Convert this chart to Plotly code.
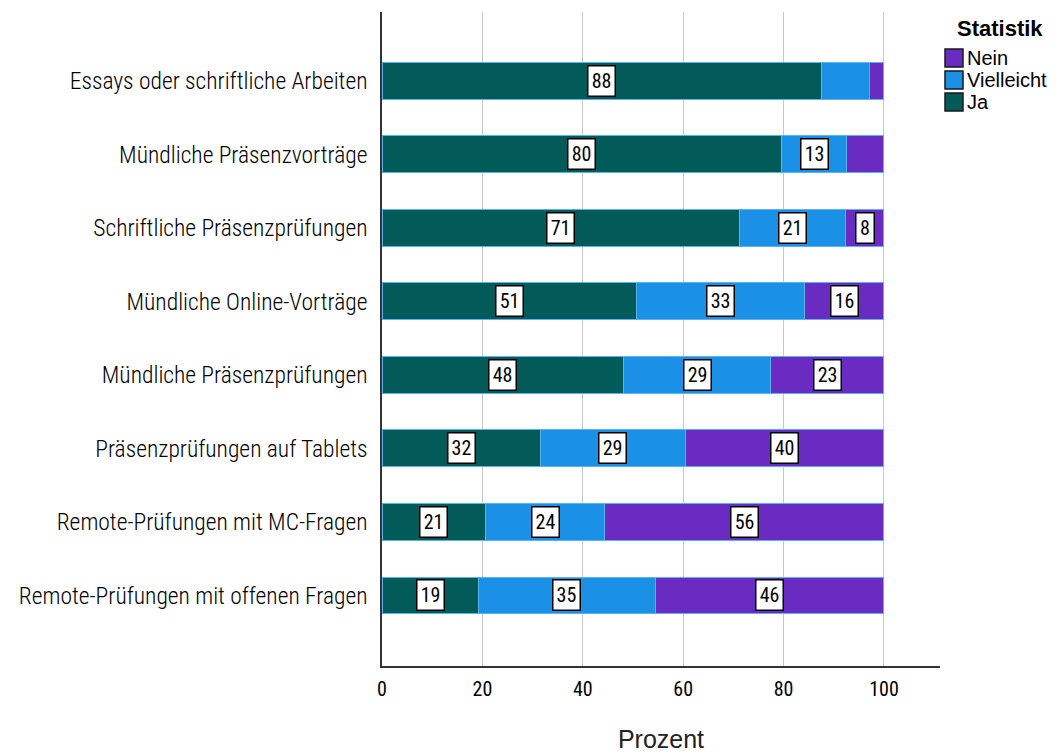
import plotly.graph_objects as go

# Survey categories (top to bottom)
categories = [
    "Essays oder schriftliche Arbeiten",
    "Mündliche Präsenzvorträge",
    "Schriftliche Präsenzprüfungen",
    "Mündliche Online-Vorträge",
    "Mündliche Präsenzprüfungen",
    "Präsenzprüfungen auf Tablets",
    "Remote-Prüfungen mit MC-Fragen",
    "Remote-Prüfungen mit offenen Fragen",
]

# Percent of answers per response
ja = [87.6, 79.6, 71.2, 50.7, 48.2, 31.6, 20.6, 19.2]
vielleicht = [9.6, 13.0, 21.2, 33.4, 29.2, 28.8, 23.8, 35.2]
nein = [2.8, 7.4, 7.6, 15.9, 22.6, 39.6, 55.6, 45.6]

# Which segments carry a value label
show_ja = [True] * 8
show_vielleicht = [False, True, True, True, True, True, True, True]
show_nein = [False, False, True, True, True, True, True, True]

series = [
    ("Ja", ja, show_ja, "#035b59"),
    ("Vielleicht", vielleicht, show_vielleicht, "#1a90e6"),
    ("Nein", nein, show_nein, "#6a2bc3"),
]

NARROW = "Liberation Sans Narrow, Roboto Condensed, Arial Narrow, sans-serif"
REGULAR = "Liberation Sans, Arial, sans-serif"

# plot-area geometry in pixels (used to place the legend block)
W, H = 1059, 754
ML, MR, MT, MB = 382, 119, 12, 88
PW, PH = W - ML - MR, H - MT - MB


def px_x(px):
    return (px - ML) / PW


def px_y(py):
    return (H - MB - py) / PH


fig = go.Figure()

for name, vals, show, color in series:
    fig.add_trace(go.Bar(
        y=categories, x=vals, orientation="h", name=name,
        marker=dict(color=color, line=dict(color="#5cb2f0", width=1)),
        width=0.5, showlegend=False, hoverinfo="x+y",
    ))

# Value labels in white boxes, centred on each segment
base = [0.0] * len(categories)
for name, vals, show, color in series:
    for i, (cat, v) in enumerate(zip(categories, vals)):
        if show[i]:
            txt = f"{v:.0f}"
            fig.add_annotation(
                x=base[i] + v / 2, y=cat, xref="x", yref="y",
                text=txt, showarrow=False,
                font=dict(family=NARROW, size=20, color="#000000"),
                bgcolor="#ffffff", bordercolor="#000000", borderwidth=1.5,
                borderpad=0, width=8 + 9 * len(txt), height=29,
            )
        base[i] += v

# Legend block: title plus outlined colour squares
fig.add_annotation(
    x=px_x(1000), y=px_y(29), xref="paper", yref="paper",
    text="<b>Statistik</b>", showarrow=False, xanchor="center", yanchor="middle",
    font=dict(family=REGULAR, size=22, color="#000000"),
)
for k, (name, vals, show, color) in enumerate(reversed(series)):
    cy = 58 + 22 * k
    fig.add_shape(
        type="rect", xref="paper", yref="paper",
        x0=px_x(945), x1=px_x(963), y0=px_y(cy - 9), y1=px_y(cy + 9),
        fillcolor=color, line=dict(color="#1a1a1a", width=1.5),
    )
    fig.add_annotation(
        x=px_x(965), y=px_y(cy), xref="paper", yref="paper",
        text=name, showarrow=False, xanchor="left", yanchor="middle",
        font=dict(family=REGULAR, size=20, color="#000000"),
    )

fig.update_layout(
    width=W, height=H,
    margin=dict(l=ML, r=MR, t=MT, b=MB),
    paper_bgcolor="#ffffff", plot_bgcolor="#ffffff",
    barmode="stack", bargap=0.5, showlegend=False,
    xaxis=dict(
        range=[0, 111.16], tickvals=[0, 20, 40, 60, 80, 100],
        showgrid=True, gridcolor="#c8c8c8", gridwidth=1,
        zeroline=False, showline=True, linecolor="#333333", linewidth=1.5,
        ticks="", ticklabelstandoff=4, automargin=False,
        tickfont=dict(family=NARROW, size=20, color="#000000"),
        title=dict(text="Prozent", font=dict(family=REGULAR, size=25, color="#222222"), standoff=31),
    ),
    yaxis=dict(
        type="category", categoryorder="array", categoryarray=categories,
        range=[7.96, -0.935], automargin=False,
        showgrid=False, zeroline=False, showline=True, linecolor="#333333", linewidth=1.5,
        ticks="", ticklabelstandoff=8,
        tickfont=dict(family=NARROW, size=23.5, color="#000000", weight=300),
    ),
)

fig.write_html("out.html")
